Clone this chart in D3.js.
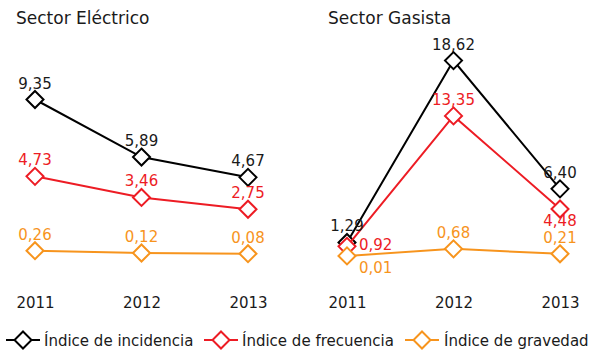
<!DOCTYPE html>
<html>
<head>
<meta charset="utf-8">
<script src="https://cdn.jsdelivr.net/npm/d3@7"></script>
<style>
  html, body { margin: 0; padding: 0; background: #fff; }
  svg { display: block; font-family: "DejaVu Sans", Verdana, sans-serif; }
</style>
</head>
<body>
<svg id="chart" width="590" height="354"></svg>
<script>
// Years on the horizontal axis
const years = ["2011", "2012", "2013"];

// Series names and colours
const seriesNames = ["Índice de incidencia", "Índice de frecuencia", "Índice de gravedad"];
const seriesColors = ["#000000", "#ed1c24", "#f7941d"];

// Sector Eléctrico
const electricoIncidencia = [9.35, 5.89, 4.67];
const electricoFrecuencia = [4.73, 3.46, 2.75];
const electricoGravedad = [0.26, 0.12, 0.08];

// Sector Gasista
const gasistaIncidencia = [1.29, 18.62, 6.40];
const gasistaFrecuencia = [0.92, 13.35, 4.48];
const gasistaGravedad = [0.01, 0.68, 0.21];

const panels = [
  {
    title: "Sector Eléctrico",
    titleX: 16,
    series: [electricoIncidencia, electricoFrecuencia, electricoGravedad],
    xRange: [35, 248],
    yDomain: [0, 9.35],
    yRange: [255, 99.5],
    labelPos: null
  },
  {
    title: "Sector Gasista",
    titleX: 328,
    series: [gasistaIncidencia, gasistaFrecuencia, gasistaGravedad],
    xRange: [347, 560],
    yDomain: [0, 18.62],
    yRange: [256, 60.6],
    // label placement overrides, keyed "series-year": [dx, dy, anchor]
    labelPos: {
      "1-0": [12, 4, "start"],
      "2-0": [12, 17, "start"],
      "1-2": [0, 17, "middle"]
    }
  }
];

const svg = d3.select("#chart");
const fmt = v => d3.format(".2f")(v).replace(".", ",");

function diamondPath(r) {
  return `M0,${-r}L${r},0L0,${r}L${-r},0Z`;
}

panels.forEach(p => {
  const x = d3.scalePoint().domain(years).range(p.xRange);
  const y = d3.scaleLinear().domain(p.yDomain).range(p.yRange);

  const g = svg.append("g");

  g.append("text")
    .attr("x", p.titleX)
    .attr("y", 24)
    .attr("font-size", 17)
    .attr("fill", "#1a1a1a")
    .text(p.title);

  // year labels
  const axis = d3.axisBottom(x).tickSize(0).tickPadding(0);
  const ax = g.append("g").attr("transform", "translate(0,296)").call(axis);
  ax.select(".domain").remove();
  ax.selectAll("text")
    .attr("font-size", 15)
    .attr("font-family", "DejaVu Sans, Verdana, sans-serif")
    .attr("fill", "#1a1a1a")
    .attr("dy", "0.78em");

  const line = d3.line().x((d, i) => x(years[i])).y(d => y(d));

  p.series.forEach((vals, si) => {
    const color = seriesColors[si];
    g.append("path")
      .attr("d", line(vals))
      .attr("fill", "none")
      .attr("stroke", color)
      .attr("stroke-width", 2);

    g.selectAll(null)
      .data(vals)
      .join("path")
      .attr("transform", (d, i) => `translate(${x(years[i])},${y(d)})`)
      .attr("d", diamondPath(8.5))
      .attr("fill", "#fff")
      .attr("stroke", color)
      .attr("stroke-width", 2);
  });

  // value labels on top
  p.series.forEach((vals, si) => {
    const color = seriesColors[si];
    vals.forEach((v, i) => {
      const key = `${si}-${i}`;
      const pos = (p.labelPos && p.labelPos[key]) || [0, -11, "middle"];
      g.append("text")
        .attr("x", x(years[i]) + pos[0])
        .attr("y", y(v) + pos[1])
        .attr("text-anchor", pos[2])
        .attr("font-size", 15)
        .attr("fill", color === "#000000" ? "#1a1a1a" : color)
        .text(fmt(v));
    });
  });
});

// legend
const legendItems = [
  { cx: 23, tx: 44 },
  { cx: 221, tx: 242 },
  { cx: 422, tx: 444 }
];
const lg = svg.append("g").attr("transform", "translate(0,340)");
legendItems.forEach((it, i) => {
  lg.append("line")
    .attr("x1", it.cx - 17).attr("x2", it.cx + 17)
    .attr("y1", 0).attr("y2", 0)
    .attr("stroke", seriesColors[i]).attr("stroke-width", 2);
  lg.append("path")
    .attr("transform", `translate(${it.cx},0)`)
    .attr("d", diamondPath(8.5))
    .attr("fill", "#fff")
    .attr("stroke", seriesColors[i])
    .attr("stroke-width", 2);
  lg.append("text")
    .attr("x", it.tx)
    .attr("y", 5.5)
    .attr("font-size", 15)
    .attr("fill", "#1a1a1a")
    .text(seriesNames[i]);
});
</script>
</body>
</html>
